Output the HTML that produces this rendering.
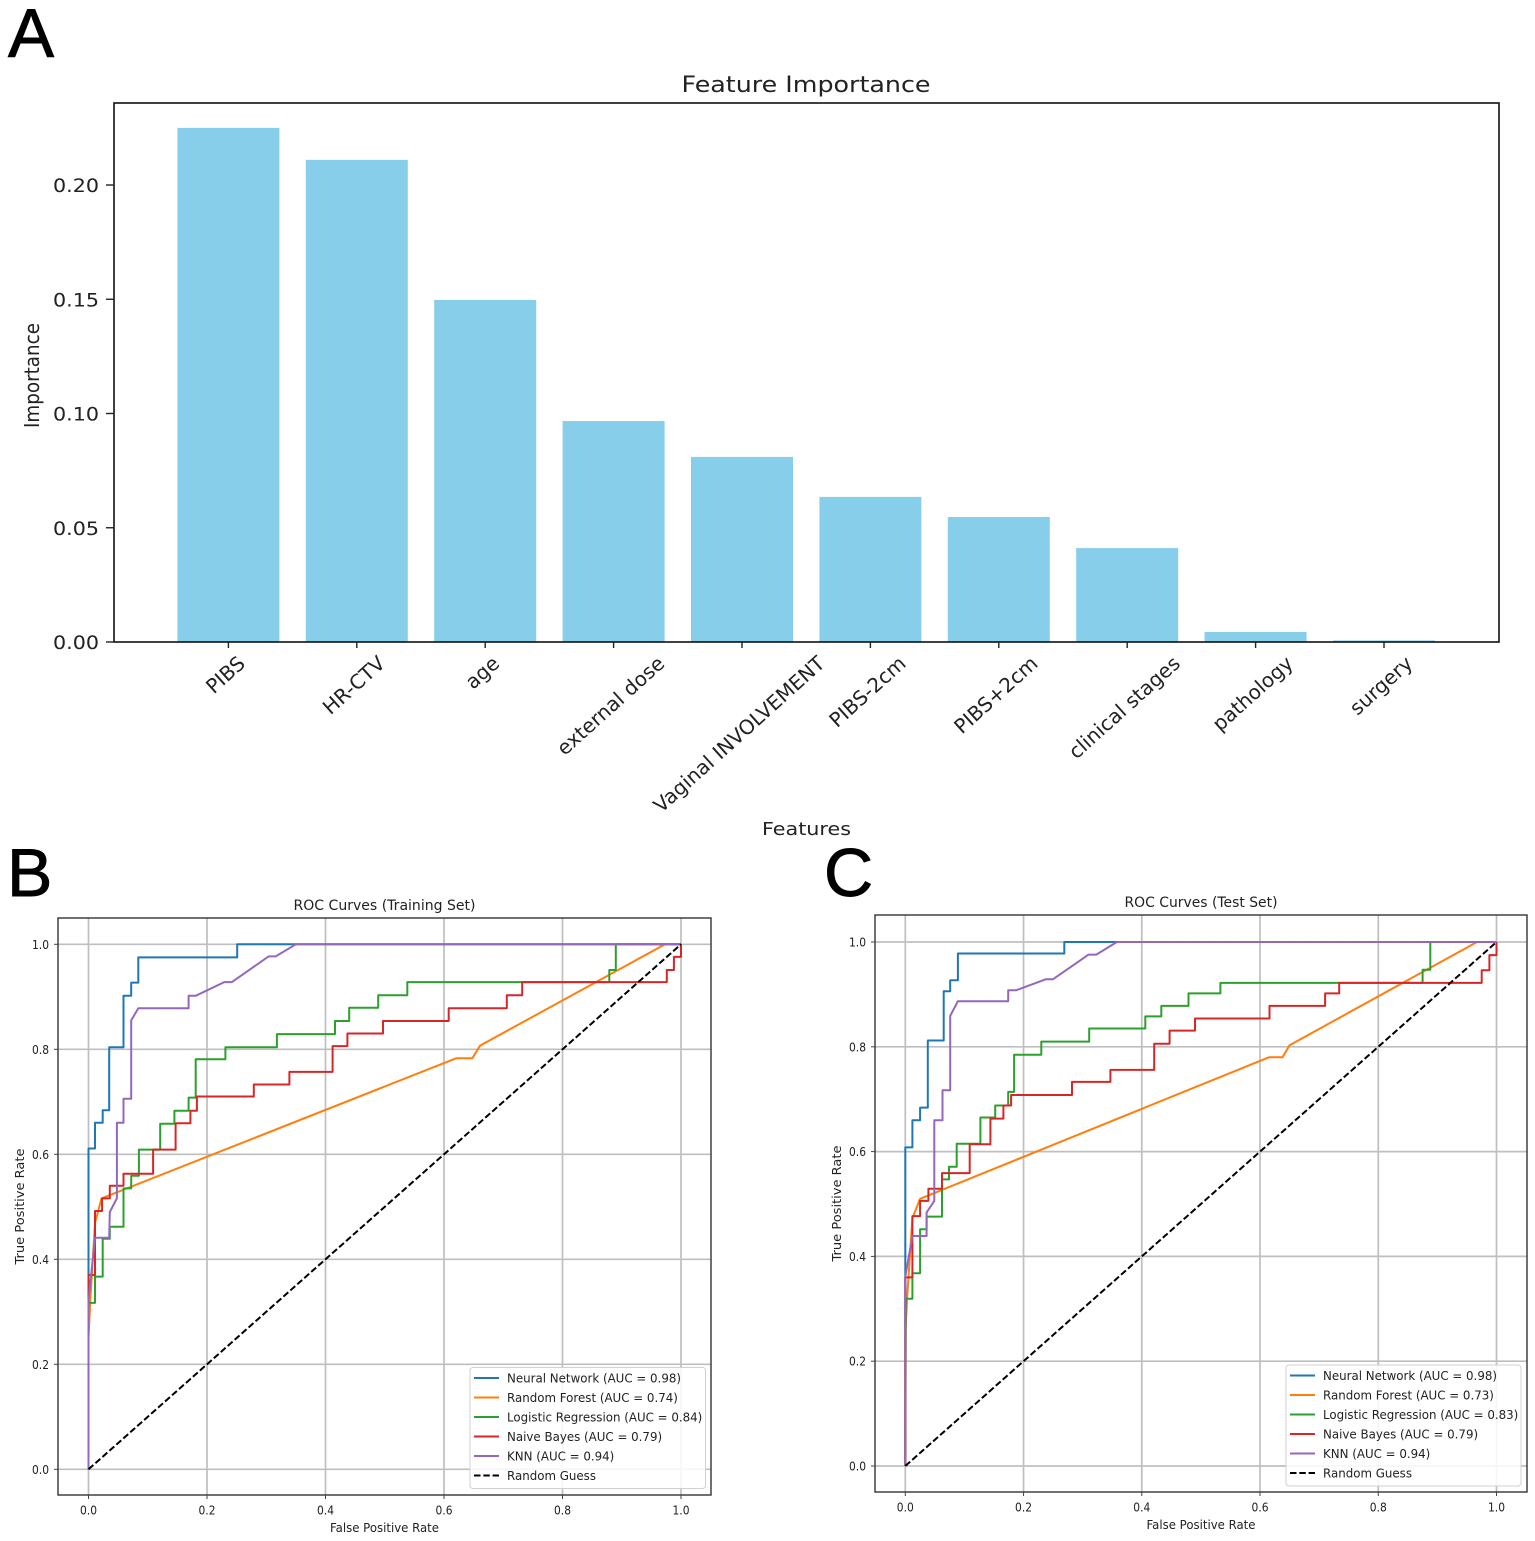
<!DOCTYPE html>
<html lang="en">
<head>
<meta charset="utf-8">
<title>Feature importance and ROC curves</title>
<style>
html,body{margin:0;padding:0;background:#fff;}
svg{display:block;filter:blur(0.35px);}
text{font-family:"DejaVu Sans","Liberation Sans",sans-serif;fill:#222;}
.letter{font-family:"Liberation Sans",sans-serif;fill:#000;stroke:#000;stroke-width:0.9px;}
</style>
</head>
<body>
<svg id="figure" xmlns="http://www.w3.org/2000/svg" width="1535" height="1541" viewBox="0 0 1535 1541">
<rect x="0" y="0" width="1535" height="1541" fill="#fff"/>
<text class="letter" x="8" y="57" font-size="69">A</text>
<text class="letter" x="7" y="896" font-size="68">B</text>
<text class="letter" x="824" y="896" font-size="68">C</text>
</svg>
<script>
// Panel A data
const featureNames = ["PIBS","HR-CTV","age","external dose","Vaginal INVOLVEMENT","PIBS-2cm","PIBS+2cm","clinical stages","pathology","surgery"];
const featureImportance = [0.225,0.211,0.1497,0.0967,0.081,0.0635,0.0547,0.0411,0.0044,0.0007];
const importanceTicks = [0,0.05,0.1,0.15,0.2];
const importanceTickLabels = ["0.00","0.05","0.10","0.15","0.20"];

// ROC shared
const rocTicks = [0,0.2,0.4,0.6,0.8,1];
const rocTickLabels = ["0.0","0.2","0.4","0.6","0.8","1.0"];
const seriesNames = ["Neural Network","Random Forest","Logistic Regression","Naive Bayes","KNN"];
const guessFpr = [0,1];
const guessTpr = [0,1];

// Panel B: training set
const trainAuc = ["0.98","0.74","0.84","0.79","0.94"];
const trainNeuralFpr = [0,0,.011,.011,.024,.024,.035,.035,.059,.059,.072,.072,.084,.084,.251,.251,1];
const trainNeuralTpr = [0,.611,.611,.66,.66,.684,.684,.804,.804,.902,.902,.927,.927,.975,.975,1,1];
const trainForestFpr = [0,0,.003,.011,.022,.621,.648,.661,.973,1];
const trainForestTpr = [0,.25,.322,.469,.516,.783,.783,.807,1,1];
const trainLogisticFpr = [0,0,.011,.011,.024,.024,.036,.036,.059,.059,.072,.072,.085,.085,.121,.121,.145,.145,.169,.169,.181,.181,.231,.231,.318,.318,.416,.416,.44,.44,.489,.489,.538,.538,.879,.879,.89,.89,1];
const trainLogisticTpr = [0,.317,.317,.367,.367,.439,.439,.462,.462,.535,.535,.559,.559,.609,.609,.658,.658,.683,.683,.708,.708,.781,.781,.804,.804,.829,.829,.854,.854,.879,.879,.903,.903,.928,.928,.951,.951,1,1];
const trainBayesFpr = [0,0,.011,.011,.023,.023,.036,.036,.059,.059,.109,.109,.147,.147,.172,.172,.183,.183,.279,.279,.339,.339,.412,.412,.437,.437,.497,.497,.608,.608,.706,.706,.732,.732,.976,.976,.988,.988,1,1];
const trainBayesTpr = [0,.37,.37,.492,.492,.516,.516,.54,.54,.563,.563,.609,.609,.659,.659,.683,.683,.71,.71,.733,.733,.757,.757,.806,.806,.83,.83,.854,.854,.878,.878,.903,.903,.928,.928,.951,.951,.976,.976,1];
const trainKnnFpr = [0,0,.011,.035,.036,.048,.048,.059,.059,.072,.072,.084,.169,.169,.181,.229,.242,.304,.316,.35,1];
const trainKnnTpr = [0,.322,.441,.441,.49,.516,.66,.66,.706,.706,.855,.878,.878,.902,.902,.928,.928,.977,.977,1,1];

// Panel C: test set
const testAuc = ["0.98","0.73","0.83","0.79","0.94"];
const testNeuralFpr = [0,0,.012,.012,.025,.025,.038,.038,.065,.065,.076,.076,.089,.089,.269,.269,1];
const testNeuralTpr = [0,.608,.608,.66,.66,.684,.684,.812,.812,.906,.906,.927,.927,.978,.978,1,1];
const testForestFpr = [0,0,.003,.012,.025,.615,.638,.65,.967,1];
const testForestTpr = [0,.25,.319,.473,.51,.78,.78,.803,1,1];
const testLogisticFpr = [0,.001,.012,.012,.025,.025,.036,.036,.062,.062,.074,.074,.087,.087,.127,.127,.152,.152,.174,.174,.184,.184,.23,.23,.311,.311,.406,.406,.433,.433,.479,.479,.533,.533,.875,.875,.888,.888,1];
const testLogisticTpr = [0,.319,.319,.368,.368,.452,.452,.476,.476,.547,.547,.571,.571,.615,.615,.665,.665,.688,.688,.714,.714,.785,.785,.81,.81,.835,.835,.858,.858,.878,.878,.902,.902,.922,.922,.947,.947,1,1];
const testBayesFpr = [0,0,.012,.012,.025,.025,.039,.039,.062,.062,.109,.109,.144,.144,.166,.166,.179,.179,.282,.282,.347,.347,.421,.421,.447,.447,.49,.49,.616,.616,.71,.71,.734,.734,.975,.975,.988,.988,1,1];
const testBayesTpr = [0,.36,.36,.477,.477,.506,.506,.529,.529,.559,.559,.614,.614,.663,.663,.688,.688,.708,.708,.733,.733,.756,.756,.806,.806,.831,.831,.854,.854,.878,.878,.902,.902,.922,.922,.946,.946,.975,.975,1];
const testKnnFpr = [0,0,.012,.036,.036,.049,.049,.063,.063,.076,.076,.089,.174,.174,.188,.238,.25,.31,.323,.358,1];
const testKnnTpr = [0,.361,.439,.439,.484,.506,.66,.66,.717,.717,.859,.887,.887,.908,.908,.929,.929,.976,.976,1,1];

const seriesColors = ["#1f77b4","#ff7f0e","#2ca02c","#d62728","#9467bd"];
const NS = "http://www.w3.org/2000/svg";
const figure = document.getElementById("figure");

function mk(parent, tag, attrs, name, text) {
  const el = document.createElementNS(NS, tag);
  
  
  for (const k in attrs) el.setAttribute(k, attrs[k]);
  if (text !== undefined) el.textContent = text;
  parent.appendChild(el);
  return el;
}
function slug(s) { return s.toLowerCase().replace(/[^a-z0-9]+/g, '-').replace(/^-|-$/g, ''); }

/* ---------- Panel A ---------- */
function drawImportance() {
  const g = mk(figure, 'g', {}, 'feature-importance-chart');
  const box = {l:114, r:1499, t:103, b:642};
  const x = i => 228.4 + 128.4 * i;
  const y = v => box.b - v * 2285;
  const halfBar = 51;
  featureImportance.forEach((v, i) => {
    mk(g, 'rect', {x:x(i)-halfBar, y:y(v), width:halfBar*2, height:box.b-y(v), fill:'#87ceeb'}, 'bar-' + slug(featureNames[i]));
  });
  mk(g, 'rect', {x:box.l, y:box.t, width:box.r-box.l, height:box.b-box.t, fill:'none', stroke:'#111', 'stroke-width':1.6}, 'plot-frame');
  importanceTicks.forEach((v, i) => {
    mk(g, 'line', {x1:box.l-8, x2:box.l, y1:y(v), y2:y(v), stroke:'#222', 'stroke-width':1.4}, 'y-tick');
    mk(g, 'text', {x:53, y:y(v)+7, 'font-size':18.5, textLength:46, lengthAdjust:'spacingAndGlyphs'}, 'y-tick-label', importanceTickLabels[i]);
  });
  featureNames.forEach((n, i) => {
    mk(g, 'line', {x1:x(i), x2:x(i), y1:box.b, y2:box.b+6, stroke:'#222', 'stroke-width':1.4}, 'x-tick');
    const t = mk(g, 'text', {'font-size':20, 'text-anchor':'middle'}, 'x-tick-label', n);
    const len = t.getComputedTextLength();
    const ang = 42 * Math.PI / 180;
    const cy = 653 + len * Math.sin(ang) / 2 + 7;
    t.setAttribute('transform', `translate(${x(i)-3},${cy}) rotate(-42) translate(0,7)`);
  });
  mk(g, 'text', {x:806, y:92, 'font-size':22, 'text-anchor':'middle', textLength:249, lengthAdjust:'spacingAndGlyphs'}, 'chart-title', 'Feature Importance');
  mk(g, 'text', {x:806.5, y:835, 'font-size':18, 'text-anchor':'middle', textLength:89, lengthAdjust:'spacingAndGlyphs'}, 'x-axis-title', 'Features');
  mk(g, 'text', {transform:'translate(39,375.5) rotate(-90)', 'font-size':20, 'text-anchor':'middle', textLength:105, lengthAdjust:'spacingAndGlyphs'}, 'y-axis-title', 'Importance');
}

/* ---------- ROC panels ---------- */
function drawRoc(cfg) {
  const g = mk(figure, 'g', {}, cfg.name);
  const x = v => cfg.x0 + v * (cfg.x1 - cfg.x0);
  const y = v => cfg.y0 + v * (cfg.y1 - cfg.y0);
  rocTicks.forEach(v => {
    mk(g, 'line', {x1:x(v), x2:x(v), y1:cfg.t, y2:cfg.b, stroke:'#bfbfbf', 'stroke-width':1.7}, 'vertical-gridline');
    mk(g, 'line', {x1:cfg.l, x2:cfg.r, y1:y(v), y2:y(v), stroke:'#bfbfbf', 'stroke-width':1.7}, 'horizontal-gridline');
  });
  cfg.series.forEach((s, i) => {
    const d = s.fpr.map((f, j) => (j ? 'L' : 'M') + x(f).toFixed(1) + ' ' + y(s.tpr[j]).toFixed(1)).join('');
    mk(g, 'path', {d:d, fill:'none', stroke:seriesColors[i], 'stroke-width':2, 'stroke-linejoin':'round'}, 'roc-curve-' + slug(seriesNames[i]));
  });
  const gd = guessFpr.map((f, j) => (j ? 'L' : 'M') + x(f).toFixed(1) + ' ' + y(guessTpr[j]).toFixed(1)).join('');
  mk(g, 'path', {d:gd, fill:'none', stroke:'#000', 'stroke-width':2, 'stroke-dasharray':'6.5 2.8'}, 'random-guess-line');
  mk(g, 'rect', {x:cfg.l, y:cfg.t, width:cfg.r-cfg.l, height:cfg.b-cfg.t, fill:'none', stroke:'#333', 'stroke-width':1.4}, 'plot-frame');
  rocTicks.forEach((v, i) => {
    mk(g, 'line', {x1:x(v), x2:x(v), y1:cfg.b, y2:cfg.b+4, stroke:'#444', 'stroke-width':1}, 'x-tick');
    mk(g, 'line', {x1:cfg.l-4, x2:cfg.l, y1:y(v), y2:y(v), stroke:'#444', 'stroke-width':1}, 'y-tick');
    mk(g, 'text', {x:x(v), y:cfg.b+19.5, 'font-size':12.6, 'text-anchor':'middle', textLength:17, lengthAdjust:'spacingAndGlyphs'}, 'x-tick-label', rocTickLabels[i]);
    mk(g, 'text', {x:cfg.l-9, y:y(v)+4.5, 'font-size':12.6, 'text-anchor':'end', textLength:17, lengthAdjust:'spacingAndGlyphs'}, 'y-tick-label', rocTickLabels[i]);
  });
  const cx = (cfg.l + cfg.r) / 2;
  mk(g, 'text', {x:cx, y:cfg.t-8, 'font-size':14.4, 'text-anchor':'middle', textLength:cfg.titleLen, lengthAdjust:'spacingAndGlyphs'}, 'chart-title', cfg.title);
  mk(g, 'text', {x:cx, y:cfg.b+37, 'font-size':12.6, 'text-anchor':'middle', textLength:109, lengthAdjust:'spacingAndGlyphs'}, 'x-axis-title', 'False Positive Rate');
  mk(g, 'text', {transform:`translate(${cfg.l-34},${(cfg.t+cfg.b)/2}) rotate(-90)`, 'font-size':12.6, 'text-anchor':'middle', textLength:116, lengthAdjust:'spacingAndGlyphs'}, 'y-axis-title', 'True Positive Rate');

  const lg = mk(g, 'g', {}, 'legend');
  const L = cfg.legend;
  mk(lg, 'rect', {x:L.x, y:L.y, width:L.w, height:L.h, rx:3, fill:'#fff', 'fill-opacity':0.85, stroke:'#d0d0d0', 'stroke-width':1}, 'legend-frame');
  const labels = seriesNames.map((n, i) => `${n} (AUC = ${cfg.auc[i]})`).concat(['Random Guess']);
  labels.forEach((lab, i) => {
    const ly = L.y + 10.5 + i * 19.5;
    const isGuess = i === 5;
    const attrs = {x1:L.x+4, x2:L.x+29, y1:ly, y2:ly, stroke:isGuess ? '#000' : seriesColors[i], 'stroke-width':1.9};
    if (isGuess) attrs['stroke-dasharray'] = '6.5 2.8';
    mk(lg, 'line', attrs, 'legend-swatch-' + slug(isGuess ? lab : seriesNames[i]));
    const t = mk(lg, 'text', {x:L.x+37, y:ly+4.6, 'font-size':12.4, lengthAdjust:'spacingAndGlyphs'}, 'legend-entry-' + slug(isGuess ? lab : seriesNames[i]), lab);
    t.setAttribute('textLength', (t.getComputedTextLength() * 0.955).toFixed(1));
  });
}

drawImportance();
drawRoc({
  name:'roc-training-chart', title:'ROC Curves (Training Set)', titleLen:182, auc:trainAuc,
  l:58, r:711, t:918, b:1495, x0:88.5, x1:681, y0:1469.3, y1:944.3,
  legend:{x:470, y:1367.5, w:235.5, h:121},
  series:[
    {fpr:trainNeuralFpr, tpr:trainNeuralTpr},
    {fpr:trainForestFpr, tpr:trainForestTpr},
    {fpr:trainLogisticFpr, tpr:trainLogisticTpr},
    {fpr:trainBayesFpr, tpr:trainBayesTpr},
    {fpr:trainKnnFpr, tpr:trainKnnTpr}
  ]
});
drawRoc({
  name:'roc-test-chart', title:'ROC Curves (Test Set)', titleLen:153, auc:testAuc,
  l:875, r:1527, t:915, b:1492, x0:905.3, x1:1496.5, y0:1466, y1:942,
  legend:{x:1286, y:1365, w:235, h:121},
  series:[
    {fpr:testNeuralFpr, tpr:testNeuralTpr},
    {fpr:testForestFpr, tpr:testForestTpr},
    {fpr:testLogisticFpr, tpr:testLogisticTpr},
    {fpr:testBayesFpr, tpr:testBayesTpr},
    {fpr:testKnnFpr, tpr:testKnnTpr}
  ]
});
</script>
</body>
</html>
